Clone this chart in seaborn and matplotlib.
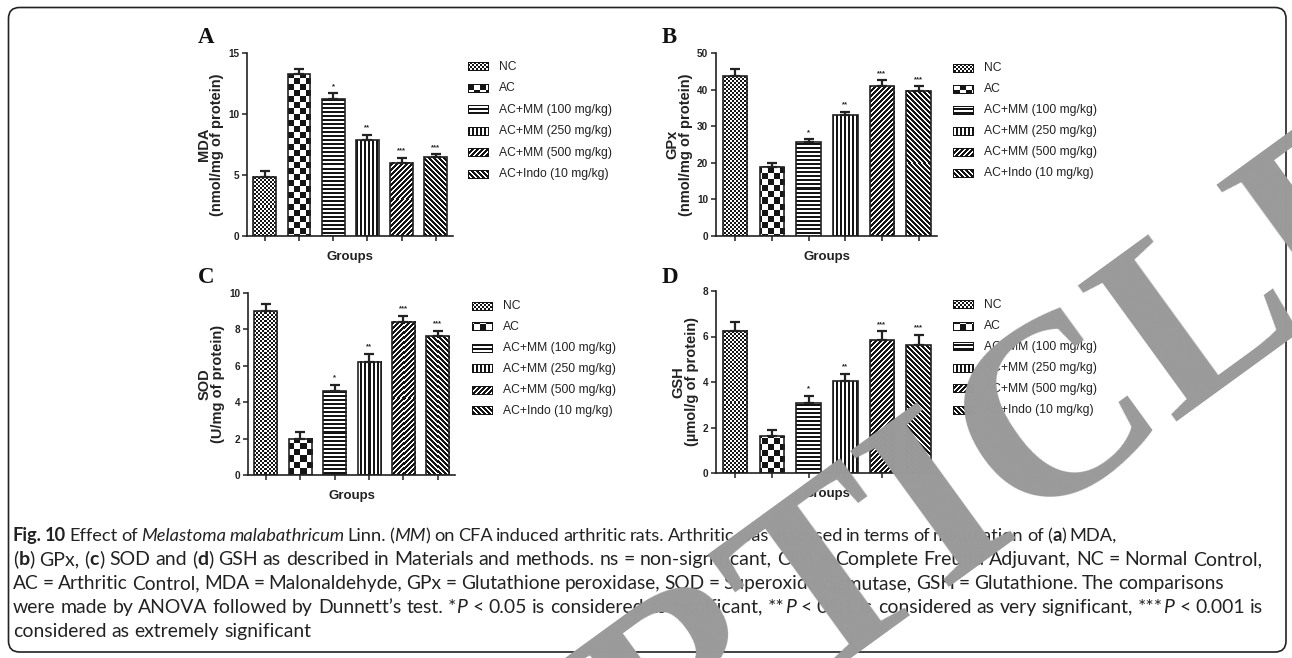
import numpy as np
import matplotlib
matplotlib.use("Agg")
import matplotlib.pyplot as plt
import seaborn as sns
from matplotlib import font_manager as fm
from matplotlib.patches import FancyBboxPatch
from matplotlib.transforms import IdentityTransform

W, H = 1292, 658

# ---- data -------------------------------------------------------------
groups = ["NC", "AC", "AC+MM (100 mg/kg)", "AC+MM (250 mg/kg)",
          "AC+MM (500 mg/kg)", "AC+Indo (10 mg/kg)"]
sig_marks = ["", "", "*", "**", "***", "***"]

mda_mean = [4.85, 13.25, 11.25, 7.85, 6.0, 6.45]
mda_sem = [0.50, 0.45, 0.45, 0.45, 0.40, 0.25]

gpx_mean = [43.7, 18.9, 25.7, 33.0, 40.9, 39.7]
gpx_sem = [1.9, 1.1, 0.7, 1.0, 1.6, 1.2]

sod_mean = [9.0, 2.0, 4.63, 6.22, 8.43, 7.62]
sod_sem = [0.38, 0.38, 0.33, 0.44, 0.31, 0.31]

gsh_mean = [6.25, 1.62, 3.06, 4.03, 5.83, 5.62]
gsh_sem = [0.40, 0.29, 0.34, 0.34, 0.39, 0.46]

fill_kinds = ["fine", "check", "hstripe", "vstripe", "diag", "adiag"]

# ---- style ------------------------------------------------------------
sns.set_theme(style="ticks")
plt.rcParams["font.family"] = ["Liberation Sans", "DejaVu Sans"]
installed = {f.name for f in fm.fontManager.ttflist}
NARROW = "Liberation Sans Narrow" if "Liberation Sans Narrow" in installed else None
CAP_FONT = "Lato" if "Lato" in installed else "Open Sans"

INK = np.array([0.08, 0.08, 0.08])
PAPER = np.array([1.0, 1.0, 1.0])
AXC = "#222222"

fig = plt.figure(figsize=(W / 100, H / 100), dpi=100)
fig.patch.set_facecolor("white")


def px_axes(left, top, right, bottom):
    return fig.add_axes([left / W, 1 - bottom / H, (right - left) / W, (bottom - top) / H])


def texture(kind, rows, cols):
    r = rows[:, None]
    c = cols[None, :]
    if kind == "fine":
        m = ((r // 2 + c // 2) % 2) == 0
    elif kind == "check":
        m = ((r // 6 + c // 6) % 2) == 0
    elif kind == "hstripe":
        m = (r % 4) < 2
    elif kind == "vstripe":
        m = (c % 4) < 2
    elif kind == "diag":
        m = ((r + c) % 5) < 3
    else:
        m = ((c - r) % 5) < 3
    m = np.broadcast_to(m, (len(rows), len(cols)))
    return np.where(m[..., None], INK, PAPER)


panels = [
    dict(tag="A", mean=mda_mean, sem=mda_sem, ymax=15, step=5,
         box=(247, 53, 453, 236), ylab="MDA\n(nmol/mg of protein)",
         leg=(468, 67, 21.4), tagxy=(198, 43)),
    dict(tag="B", mean=gpx_mean, sem=gpx_sem, ymax=50, step=10,
         box=(716, 53, 937, 236), ylab="GPx\n(nmol/mg of protein)",
         leg=(953, 68, 21.1), tagxy=(662, 43)),
    dict(tag="C", mean=sod_mean, sem=sod_sem, ymax=10, step=2,
         box=(248, 293, 455, 475), ylab="SOD\n(U/mg of protein)",
         leg=(472, 306, 21.0), tagxy=(198, 283)),
    dict(tag="D", mean=gsh_mean, sem=gsh_sem, ymax=8, step=2,
         box=(716, 291, 937, 473), ylab="GSH\n(\u00b5mol/g of protein)",
         leg=(953, 305, 21.0), tagxy=(662, 283)),
]

tick_font = dict(family=[NARROW] if NARROW else ["Liberation Sans"],
                 weight="bold", size=7.8 if NARROW else 7.2)
leg_font = dict(family=[NARROW] if NARROW else ["Liberation Sans"],
                size=10.5 if NARROW else 8.7)

axes = []
for pn in panels:
    ax = px_axes(*pn["box"])
    sns.barplot(x=groups, y=pn["mean"], order=groups, width=0.67, color="white",
                edgecolor=AXC, linewidth=1.2, errorbar=None, ax=ax)
    for p in ax.patches:
        p.set_facecolor("none")
        p.set_zorder(3)
    ax.errorbar(range(len(groups)), pn["mean"],
                yerr=[np.zeros(len(groups)), pn["sem"]], fmt="none",
                ecolor=AXC, elinewidth=1.6, capsize=3.6, capthick=1.6, zorder=4)
    for i, mark in enumerate(sig_marks):
        if mark:
            ax.annotate(mark, (i, pn["mean"][i] + pn["sem"][i]), xytext=(0, 2.5),
                        textcoords="offset points", ha="center", va="bottom",
                        fontsize=5.5, fontweight="bold", color=AXC)
    ax.set_xlim(-0.52, 5.5)
    ax.set_ylim(0, pn["ymax"])
    ax.set_yticks(np.arange(0, pn["ymax"] + 1e-9, pn["step"]))
    ax.set_xticks(range(len(groups)))
    ax.set_xticklabels([])
    for lab in ax.get_yticklabels():
        lab.set_fontfamily(tick_font["family"])
        lab.set_fontweight("bold")
        lab.set_fontsize(tick_font["size"])
    sns.despine(ax=ax)
    for s in ("left", "bottom"):
        ax.spines[s].set_linewidth(1.2)
        ax.spines[s].set_color(AXC)
    ax.tick_params(axis="both", direction="out", length=3.5, width=1.1,
                   colors=AXC, pad=2)
    ax.set_ylabel(pn["ylab"], fontsize=10.5, fontweight="bold", labelpad=3,
                  linespacing=0.95, color=AXC)
    ax.set_xlabel("Groups", fontsize=9.5, fontweight="bold", labelpad=5, color=AXC)
    ax.set_facecolor("none")

    fig.text(pn["tagxy"][0] / W, 1 - pn["tagxy"][1] / H, pn["tag"],
             family="Liberation Serif", weight="bold", fontsize=16.5,
             va="baseline", ha="left", color="#111111")

    lx, ly, lstep = pn["leg"]
    for i, g in enumerate(groups):
        yc = ly + i * lstep
        fig.text((lx + 31) / W, 1 - yc / H, g, va="center", ha="left",
                 color="#222222", **leg_font)
    axes.append(ax)

# ---- caption ----------------------------------------------------------
caption = [
    [("Fig. 10", "b"), (" Effect of ", "n"), ("Melastoma malabathricum", "i"),
     (" Linn. (", "n"), ("MM", "i"),
     (") on CFA induced arthritic rats. Arthritic was assessed in terms of modulation of (", "n"),
     ("a", "b"), (") MDA,", "n")],
    [("(", "n"), ("b", "b"), (") GPx, (", "n"), ("c", "b"), (") SOD and (", "n"),
     ("d", "b"),
     (") GSH as described in Materials and methods. ns = non-significant, "
      "CFA = Complete Freund Adjuvant, NC = Normal Control,", "n")],
    [("AC = Arthritic Control, MDA = Malonaldehyde, GPx = Glutathione peroxidase, "
      "SOD = Superoxide dismutase, GSH = Glutathione. The comparisons", "n")],
    [("were made by ANOVA followed by Dunnett\u2019s test. *", "n"), ("P", "i"),
     (" < 0.05 is considered as significant, **", "n"), ("P", "i"),
     (" < 0.01 is considered as very significant, ***", "n"), ("P", "i"),
     (" < 0.001 is", "n")],
    [("considered as extremely significant", "n")],
]
cap_baselines = [541, 565, 589, 613, 637]
cap_right = [1117, 1262, 1224, 1263, None]
cap_left = 13

fig.canvas.draw()
renderer = fig.canvas.get_renderer()


def prop_for(style, size):
    return fm.FontProperties(family=CAP_FONT, size=size,
                             weight="bold" if style == "b" else "normal",
                             style="italic" if style == "i" else "normal")


def advance(s, prop):
    w1, _, _ = renderer.get_text_width_height_descent("|" + s + "|", prop, ismath=False)
    w0, _, _ = renderer.get_text_width_height_descent("||", prop, ismath=False)
    return w1 - w0


def descent(s, prop):
    _, _, d = renderer.get_text_width_height_descent(s, prop, ismath=False)
    _, _, d_lp = renderer.get_text_width_height_descent("lp", prop, ismath=False)
    return max(d, d_lp)


def segments(pieces):
    """Split styled pieces into (word, style) runs; None marks a word gap."""
    segs = []
    for text, st in pieces:
        parts = text.split(" ")
        for k, part in enumerate(parts):
            if k > 0:
                segs.append((None, st))
            if part:
                segs.append((part, st))
    return segs


def line_width(segs, size, extra):
    w = 0.0
    for word, st in segs:
        prop = prop_for(st, size)
        w += advance(" ", prop) + extra if word is None else advance(word, prop)
    return w


base = 11.0
cap_size = base * (cap_right[3] - cap_left) / line_width(segments(caption[3]), base, 0.0)

for pieces, yb, right in zip(caption, cap_baselines, cap_right):
    segs = segments(pieces)
    size, extra = cap_size, 0.0
    if right is not None:
        ratio = (right - cap_left) / line_width(segs, cap_size, 0.0)
        size = cap_size * ratio ** 0.7
        n_gaps = sum(1 for w_, _ in segs if w_ is None)
        extra = ((right - cap_left) - line_width(segs, size, 0.0)) / max(n_gaps, 1)
    x = cap_left
    base_disp = H - yb  # baseline in display pixels (origin bottom-left)
    for word, st in segs:
        prop = prop_for(st, size)
        if word is None:
            x += advance(" ", prop) + extra
            continue
        y_bottom = base_disp - descent(word, prop)
        fig.text(x / W, y_bottom / H, word, fontproperties=prop, va="bottom",
                 ha="left", color="#222222")
        x += advance(word, prop)

# ---- frame ------------------------------------------------------------
frame = FancyBboxPatch((8.5, 6.0), 1277.5, 644.5,
                       boxstyle="round,pad=0,rounding_size=11",
                       transform=IdentityTransform(), fill=False,
                       ec="#222222", lw=1.2)
fig.add_artist(frame)

# ---- bar fills (patterns in pixel space) ------------------------------
fig.canvas.draw()
for ax in axes:
    xl, yl = ax.get_xlim(), ax.get_ylim()
    for p, kind in zip(ax.patches, fill_kinds):
        bb = p.get_window_extent(renderer)
        w = max(1, int(round(bb.width)))
        h = max(1, int(round(bb.height)))
        rows = np.arange(h) + int(round(H - bb.y1))
        cols = np.arange(w) + int(round(bb.x0))
        img = texture(kind, rows, cols)
        x0, y0 = p.get_x(), p.get_y()
        ax.imshow(img, extent=(x0, x0 + p.get_width(), y0, y0 + p.get_height()),
                  origin="upper", interpolation="nearest", aspect="auto", zorder=2)
    ax.set_xlim(xl)
    ax.set_ylim(yl)
    ax.set_aspect("auto")

# legend swatches
sw_w, sw_h = 21, 9
for pn in panels:
    lx, ly, lstep = pn["leg"]
    for i, kind in enumerate(fill_kinds):
        yc = ly + i * lstep
        top = int(round(yc - sw_h / 2))
        img = texture(kind, np.arange(sw_h) + top, np.arange(sw_w) + lx)
        img[0, :] = INK
        img[-1, :] = INK
        img[:, 0] = INK
        img[:, -1] = INK
        fig.figimage(img, xo=int(lx), yo=int(H - top - sw_h), origin="upper", zorder=5)

# ---- watermark --------------------------------------------------------
fig.text(945 / W, 1 - 512 / H, "ARTICLE", rotation=36, rotation_mode="anchor",
         ha="center", va="center", fontsize=185, family="Liberation Serif",
         weight="bold", color="#9a9a9a", zorder=30)

fig.savefig("out.png", dpi=100, facecolor="white")
